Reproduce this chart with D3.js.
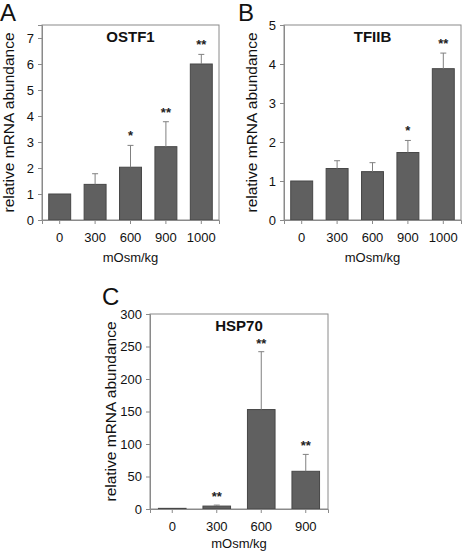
<!DOCTYPE html>
<html><head><meta charset="utf-8">
<script src="https://cdn.jsdelivr.net/npm/d3@7"></script>
<style>body{margin:0;background:#fff}svg{display:block}text{font-family:Arial,"Liberation Sans",sans-serif}</style>
</head><body>
<svg id="c" width="462" height="553"></svg>
<script>
const catsA = ["0","300","600","900","1000"];
const valsA = [1.0, 1.37, 2.03, 2.82, 6.0];
const errA  = [0, 0.41, 0.84, 0.96, 0.37];
const starsA = ["", "", "*", "**", "**"];
const ticksA = [0,1,2,3,4,5,6,7];

const catsB = ["0","300","600","900","1000"];
const valsB = [1.0, 1.32, 1.24, 1.73, 3.88];
const errB  = [0, 0.20, 0.23, 0.31, 0.40];
const starsB = ["", "", "", "*", "**"];
const ticksB = [0,1,2,3,4,5];

const catsC = ["0","300","600","900"];
const valsC = [1, 4.5, 153, 58];
const errC  = [0, 1.5, 89, 26];
const starsC = ["", "**", "**", "**"];
const ticksC = [0,50,100,150,200,250,300];

const svg = d3.select("#c");
const FF = "Arial,'Liberation Sans',sans-serif";

function panel(o){
  const g = svg.append("g");
  const x = d3.scaleBand().domain(o.cats).range([o.x0,o.x1]).paddingInner(0.38).paddingOuter(0.19);
  const y = d3.scaleLinear().domain([0,o.ymax]).range([o.y0,o.y1]);
  g.append("rect").attr("x",o.x0).attr("y",o.y1).attr("width",o.x1-o.x0).attr("height",o.y0-o.y1)
    .attr("fill","none").attr("stroke","#8a8a8a").attr("stroke-width",1);
  g.selectAll("rect.bar").data(o.vals).join("rect").attr("class","bar")
    .attr("x",(d,i)=>x(o.cats[i])).attr("width",x.bandwidth())
    .attr("y",d=>y(d)).attr("height",d=>y(0)-y(d))
    .attr("fill","#606060").attr("stroke","#474747").attr("stroke-width",1);
  o.vals.forEach((v,i)=>{
    const cx = x(o.cats[i])+x.bandwidth()/2;
    const top = v+o.err[i];
    if(o.err[i]){
      g.append("line").attr("x1",cx).attr("x2",cx).attr("y1",y(v)).attr("y2",y(top)).attr("stroke","#808080");
      g.append("line").attr("x1",cx-3).attr("x2",cx+3).attr("y1",y(top)).attr("y2",y(top)).attr("stroke","#808080");
    }
    if(o.stars[i]) g.append("text").attr("x",cx).attr("y",y(top)-o.sgap).attr("text-anchor","middle")
      .attr("font-size",13).attr("font-weight","bold").attr("fill","#222").text(o.stars[i]);
  });
  const ya = g.append("g").attr("transform",`translate(${o.x0},0)`)
    .call(d3.axisLeft(y).tickValues(o.ticks).tickFormat(d3.format("d")).tickSize(4).tickPadding(4));
  ya.select(".domain").attr("stroke","#8a8a8a");
  ya.selectAll(".tick line").attr("stroke","#8a8a8a");
  ya.selectAll(".tick text").attr("font-size",13).attr("fill","#111").attr("font-family",FF);
  const xa = g.append("g").attr("transform",`translate(0,${o.y0})`)
    .call(d3.axisBottom(x).tickSize(4).tickPadding(9));
  xa.select(".domain").attr("stroke","#8a8a8a");
  xa.selectAll(".tick line").attr("stroke","#8a8a8a");
  xa.selectAll(".tick text").attr("font-size",13).attr("fill","#111").attr("font-family",FF);
  g.append("text").attr("x",(o.x0+o.x1)/2).attr("y",o.y1+17).attr("text-anchor","middle")
    .attr("font-size",15).attr("font-weight","bold").attr("fill","#111").text(o.title);
  g.append("text").attr("x",(o.x0+o.x1)/2).attr("y",o.y0+o.xty).attr("text-anchor","middle")
    .attr("font-size",13).attr("fill","#111").text("mOsm/kg");
  g.append("text").attr("transform",`translate(${o.ytx},${(o.y0+o.y1)/2}) rotate(-90)`).attr("text-anchor","middle")
    .attr("font-size",15.5).attr("fill","#111").text("relative mRNA abundance");
  g.append("text").attr("x",o.lx).attr("y",o.ly).attr("font-size",24).attr("fill","#111").text(o.letter);
}

panel({cats:catsA,vals:valsA,err:errA,stars:starsA,ticks:ticksA,ymax:7.5,x0:42,x1:219,y0:220,y1:25,title:"OSTF1",ytx:14,lx:0,ly:21,letter:"A",sgap:5,xty:42});
panel({cats:catsB,vals:valsB,err:errB,stars:starsB,ticks:ticksB,ymax:5,x0:284,x1:461,y0:220,y1:25,title:"TFIIB",ytx:257,lx:238,ly:21,letter:"B",sgap:5,xty:42});
panel({cats:catsC,vals:valsC,err:errC,stars:starsC,ticks:ticksC,ymax:300,x0:150,x1:328,y0:509,y1:314,title:"HSP70",ytx:116,lx:102,ly:305,letter:"C",sgap:4,xty:39});
</script>
</body></html>
